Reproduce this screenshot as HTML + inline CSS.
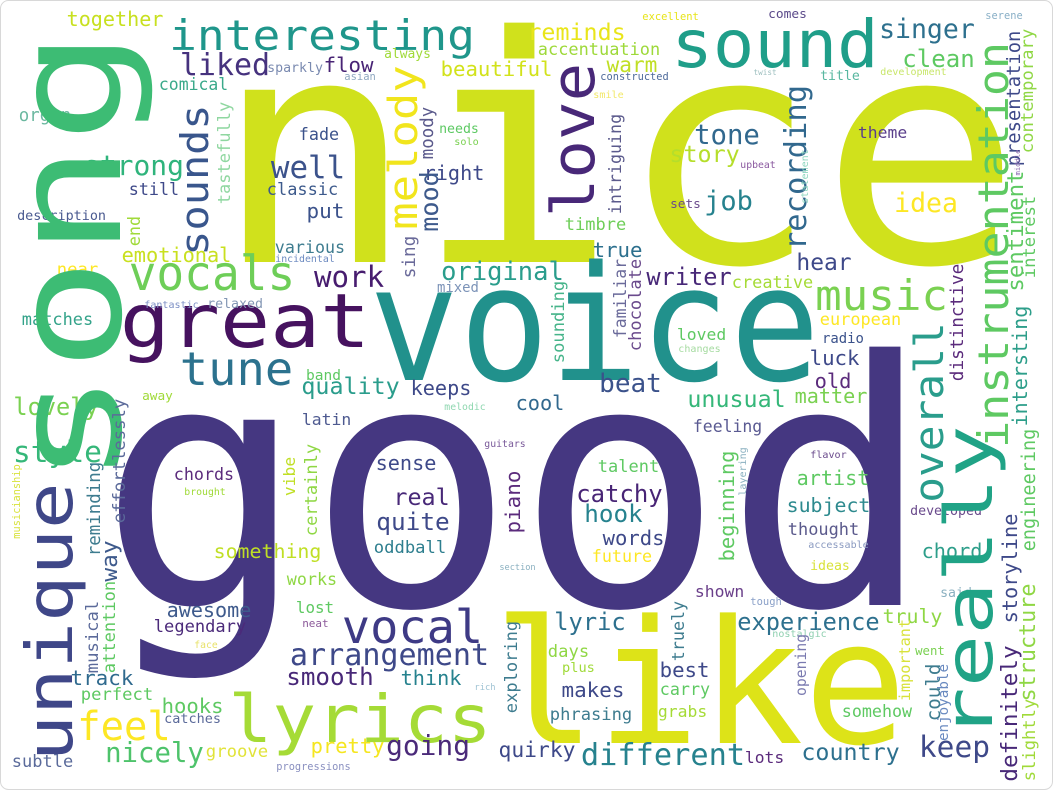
<!DOCTYPE html>
<html><head><meta charset="utf-8">
<style>
html,body{margin:0;padding:0;background:#fff;}
#wrap{position:relative;width:1053px;height:790px;overflow:hidden;background:#fff;}
svg{position:absolute;left:0;top:0;}
text{font-family:"DejaVu Sans Mono","Liberation Mono",monospace;}
</style></head>
<body>
<div id="wrap">
<svg id="cloud" width="1053" height="790" viewBox="0 0 1053 790">
<rect x="0.5" y="0.5" width="1052" height="789" rx="8" fill="#fff" stroke="#d8d8d8"/>
<g id="words"></g>
</svg>
</div>
<script>
// horizontal words: text, inkLeft, inkRight, baseline, color, fontSize(optional)
const hWords = [
["nice",235,1000,262,"#d0e11c",315],
["good",122,909,605,"#453781",340],
["voice",380,809,380,"#21918c",160],
["like",505,895,743,"#dde318",172],
["great",125,365,347,"#46125f",75],
["lyrics",233,487,742,"#a5db36",66],
["interesting",172,472,50,"#1f968b",42],
["sound",676,874,67,"#1f9e89",66],
["vocals",132,292,290,"#6ece58",48],
["vocal",345,480,643,"#3e3a85",46],
["tune",183,290,385,"#2c728e",46],
["music",818,945,310,"#7ad151",42],
["feel",80,168,740,"#fde725",40],
["together",68,162,26,"#c8e020"],
["liked",182,268,75,"#46327e"],
["sparkly",268,322,72,"#7a8ab0"],
["flow",325,372,72,"#482475"],
["always",385,430,58,"#a0da39"],
["asian",345,375,80,"#8fa8c0"],
["beautiful",442,551,76,"#d2e21b"],
["comical",160,227,90,"#3aa98a"],
["organ",20,70,121,"#6bb8a0"],
["strong",85,182,175,"#2fb47c"],
["still",130,178,195,"#3e4989"],
["description",18,105,220,"#4a5a90"],
["well",273,343,178,"#3b528b"],
["classic",268,337,195,"#3d5a8c"],
["put",308,343,218,"#3b528b"],
["fade",300,338,140,"#3b528b"],
["various",276,344,253,"#3e7c8f"],
["incidental",276,334,262,"#6c8ac0"],
["emotional",123,230,262,"#c9e01f"],
["near",58,97,275,"#fde725"],
["work",316,382,287,"#471c6f"],
["right",425,483,180,"#3e4989"],
["needs",440,478,133,"#5dc963"],
["solo",455,478,145,"#7ad151"],
["original",443,562,280,"#2a9d8c"],
["mixed",438,478,292,"#7c93b8"],
["fantastic",145,198,308,"#7e90c5"],
["relaxed",208,262,308,"#8396b4"],
["matches",23,92,325,"#34a38a"],
["band",307,340,380,"#5ec962"],
["quality",303,398,394,"#2a9d8c"],
["keeps",412,470,395,"#3e4989"],
["excellent",643,698,20,"#e7e419"],
["comes",769,806,18,"#5b4a8a"],
["serene",986,1022,19,"#8ab0c7"],
["reminds",529,624,40,"#e9e51a"],
["singer",881,973,38,"#2d708e"],
["clean",904,973,67,"#5ec962"],
["accentuation",539,659,55,"#9ed93a"],
["warm",608,656,72,"#c0df25"],
["constructed",601,668,80,"#4e6a9a"],
["twist",754,776,75,"#9fc0c0"],
["title",821,859,80,"#58b7a0"],
["development",881,946,75,"#c8e66a"],
["smile",594,623,98,"#f2e86a"],
["tone",696,758,144,"#31688e"],
["story",671,738,162,"#b5de2b"],
["upbeat",741,775,168,"#8b5aa0"],
["theme",859,906,138,"#5a3f8b"],
["job",706,751,210,"#26828e"],
["sets",671,700,208,"#6a4a8c"],
["idea",896,956,212,"#fde725"],
["timbre",566,625,230,"#6ece58"],
["true",594,641,257,"#2d708e"],
["writer",648,730,285,"#482878"],
["creative",733,812,288,"#a5db36"],
["hear",798,850,270,"#3e4989"],
["european",821,900,325,"#fde725"],
["radio",823,863,343,"#3b528b"],
["loved",678,725,340,"#5ec962"],
["changes",679,720,352,"#a5dba0"],
["luck",811,858,365,"#3e4989"],
["old",816,850,388,"#5b2b7c"],
["beat",601,660,392,"#3b528b"],
["matter",796,866,403,"#7ad151"],
["unusual",689,784,407,"#35b779"],
["cool",517,563,410,"#31688e"],
["lovely",15,97,415,"#7ad151"],
["away",143,172,400,"#a0da39"],
["melodic",445,485,410,"#8fd7b0"],
["latin",303,350,425,"#4e5a90"],
["style",15,100,462,"#35b779"],
["chords",175,233,480,"#5b2b7c"],
["brought",185,225,495,"#a0da39"],
["sense",377,435,470,"#3e4989"],
["real",395,448,505,"#482878"],
["quite",378,448,530,"#3e4989"],
["oddball",375,445,553,"#2d7e8e"],
["something",215,320,558,"#c0df25"],
["works",288,336,585,"#8fd744"],
["lost",297,333,613,"#5ec962"],
["neat",303,328,627,"#8c5a9a"],
["awesome",168,250,617,"#3e5a8c"],
["legendary",155,245,632,"#4b2a7a"],
["face",195,217,648,"#e8e26a"],
["arrangement",292,487,665,"#3e4989"],
["smooth",288,372,685,"#482878"],
["think",402,460,685,"#26828e"],
["track",72,132,685,"#2f6a8e"],
["perfect",82,152,700,"#5ec962"],
["hooks",163,222,713,"#5ec962"],
["catches",165,220,723,"#5b6a9a"],
["nicely",107,202,762,"#4ec36b"],
["groove",207,267,757,"#e1e33a"],
["pretty",312,383,753,"#f5e61f"],
["going",388,468,755,"#4b2a7a"],
["subtle",13,72,767,"#5a6a9a"],
["progressions",277,350,770,"#8a90c0"],
["rich",475,495,690,"#a0c4d4"],
["guitars",485,525,447,"#7a5a9a"],
["section",500,535,570,"#8ab0c0"],
["feeling",694,761,432,"#5a5a92"],
["talent",599,658,472,"#5ec962"],
["catchy",578,661,502,"#482475"],
["hook",586,641,522,"#26828e"],
["words",604,663,545,"#3e4989"],
["future",593,651,562,"#fde725"],
["flavor",811,846,458,"#6a4a8c"],
["artist",798,868,485,"#5ec962"],
["subject",788,869,512,"#2d8a8e"],
["thought",789,858,535,"#5b5a8c"],
["accessable",809,868,548,"#8a9ac0"],
["ideas",811,849,570,"#d8e23a"],
["developed",911,981,515,"#6a4a8c"],
["chord",923,981,558,"#2d9e8a"],
["shown",696,743,597,"#6a3f8a"],
["tough",751,781,605,"#8aa0c8"],
["said",941,971,597,"#8ab0c0"],
["lyric",556,624,630,"#2d708e"],
["experience",739,878,630,"#2d708e"],
["truly",884,941,623,"#8fd744"],
["nostalgic",773,826,637,"#8fd0b0"],
["days",549,588,657,"#8fd744"],
["plus",563,594,672,"#a0da39"],
["went",916,944,655,"#7ad151"],
["best",661,708,677,"#3e4989"],
["makes",563,623,697,"#3e4989"],
["carry",661,709,695,"#5ec962"],
["phrasing",551,631,720,"#3e7c8f"],
["grabs",659,706,717,"#a5db36"],
["somehow",843,911,717,"#5ec962"],
["quirky",500,574,757,"#3e4989"],
["different",583,743,765,"#26828e"],
["lots",746,783,763,"#5b2b7c"],
["country",803,898,760,"#2d708e"],
["keep",921,988,757,"#3e4989"]
];
// vertical words (read bottom to top): text, baselineX, inkTop, inkBottom, color, fontSize(optional)
const vWords = [
["song",120,40,475,"#3dbc74",150],
["really",992,430,735,"#20a386",66],
["unique",72,487,757,"#3f4788",64],
["love",594,67,213,"#482878",60],
["melody",417,68,227,"#f1e51d",40],
["recording",806,87,248,"#31688e",30],
["sounds",208,107,253,"#39568c",38],
["overall",943,325,500,"#2a9d8c",40],
["instrumentation",1008,45,445,"#5ec962",42],
["presentation",1020,32,165,"#3e4989"],
["contemporary",1033,30,152,"#8fd744"],
["middle",1020,150,175,"#8c6ab0"],
["sentiment",1023,172,290,"#5ec962"],
["interest",1035,197,277,"#5ec962"],
["intersting",1027,307,425,"#2d9e8a"],
["distinctive",963,265,380,"#5b2b7c"],
["engineering",1035,430,550,"#5ec962"],
["storyline",1017,515,622,"#3e4989"],
["definitely",1017,647,780,"#482878"],
["slightly",1035,700,780,"#a0da39"],
["structure",1035,585,700,"#8fd744"],
["could",940,665,720,"#3e7c8f"],
["enjoyable",948,665,740,"#6a8ac0"],
["important",910,620,700,"#d8e23a"],
["opening",806,635,695,"#7a7ab0"],
["tastefully",230,103,203,"#8fd7a0"],
["end",140,217,245,"#a0da39"],
["moody",433,108,158,"#5b5a8c"],
["mood",438,173,230,"#3e5a8c"],
["sing",415,237,277,"#6a6a9a"],
["intriguing",621,115,213,"#5b5a8c"],
["familiar",626,260,337,"#6a6a9a"],
["chocolate",641,260,350,"#6a4a8c"],
["sounding",564,282,362,"#46b48a"],
["statement",808,150,203,"#8fd7c0"],
["effortlessly",125,400,522,"#5b6a9a"],
["reminding",100,463,555,"#3e7c8f"],
["musicianship",20,465,538,"#d8e23a"],
["way",117,542,580,"#3e5a8c"],
["attention",115,582,672,"#5ec962"],
["musical",98,602,672,"#5b6a9a"],
["vibe",295,458,495,"#c0df25"],
["certainly",317,445,535,"#8fd744"],
["piano",520,472,532,"#5b2b7c"],
["exploring",517,622,712,"#3e7c8f"],
["beginning",734,452,560,"#5ec962"],
["layering",746,448,495,"#8ab0c0"],
["truely",684,602,660,"#3e7c8f"]
];

const NS = "http://www.w3.org/2000/svg";
const g = document.getElementById("words");
function slug(t){return t.toLowerCase().replace(/[^a-z0-9]+/g,'-');}

hWords.forEach(w => {
  const [txt,x0,x1,base,col,fsO] = w;
  const width = x1 - x0;
  const fs = fsO || width / (txt.length * 0.6 - 0.12);
  const t = document.createElementNS(NS,"text");
  t.setAttribute("x", (x0 - 0.07*fs).toFixed(1));
  t.setAttribute("y", base);
  t.setAttribute("font-size", fs.toFixed(1));
  t.setAttribute("fill", col);
  t.setAttribute("textLength", (width + 0.14*fs).toFixed(1));
  t.setAttribute("lengthAdjust", "spacingAndGlyphs");
  t.textContent = txt;
  
  
  g.appendChild(t);
});

vWords.forEach(w => {
  const [txt,bx,yTop,yBot,col,fsO] = w;
  const len = yBot - yTop;
  const fs = fsO || len / (txt.length * 0.6 - 0.12);
  const t = document.createElementNS(NS,"text");
  t.setAttribute("x", 0);
  t.setAttribute("y", 0);
  t.setAttribute("transform", "translate(" + bx + "," + (yBot + 0.07*fs).toFixed(1) + ") rotate(-90)");
  t.setAttribute("font-size", fs.toFixed(1));
  t.setAttribute("fill", col);
  t.setAttribute("textLength", (len + 0.14*fs).toFixed(1));
  t.setAttribute("lengthAdjust", "spacingAndGlyphs");
  t.textContent = txt;
  
  
  g.appendChild(t);
});
</script>
</body></html>
